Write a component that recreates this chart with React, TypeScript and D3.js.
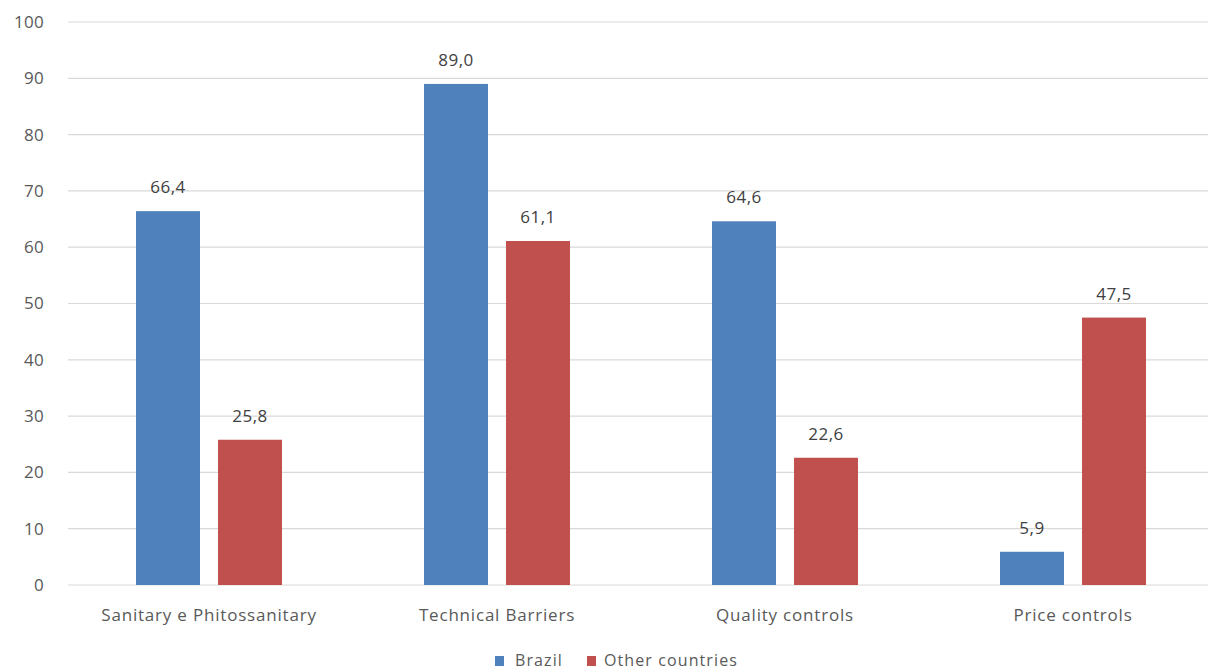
import React from "react";
import * as d3 from "d3";

const categories = ["Sanitary e Phitossanitary", "Technical Barriers", "Quality controls", "Price controls"];
const seriesNames = ["Brazil", "Other countries"];
const brazil = [66.4, 89.0, 64.6, 5.9];
const others = [25.8, 61.1, 22.6, 47.5];
const yTicks = [0, 10, 20, 30, 40, 50, 60, 70, 80, 90, 100];
const colors = ["#4F81BD", "#C0504D"];

const W = 1208, H = 672;
const left = 65, right = 1217, top = 22, bottom = 585;
const font = "'Open Sans', 'DejaVu Sans', sans-serif";

export default function App() {
  const x = d3.scaleBand<string>().domain(categories).range([left, right]).paddingInner(0).paddingOuter(0);
  const y = d3.scaleLinear().domain([0, 100]).range([bottom, top]);
  const inner = d3.scaleBand<string>().domain(seriesNames).range([0, x.bandwidth()]).paddingInner(0.22).paddingOuter(0.866);
  const series = [brazil, others];
  const fmt = (v: number) => v.toFixed(1).replace(".", ",");
  return (
    <svg width={W} height={H} style={{ position: "absolute", left: 0, top: 0, background: "#fff" }} fontFamily={font}>
      {yTicks.map((t) => (
        <g key={t}>
          <line x1={68} x2={W} y1={y(t)} y2={y(t)} stroke="#D9D9D9" strokeWidth={1.2} />
          <text x={44} y={y(t)} dy="0.35em" textAnchor="end" fontSize={17} letterSpacing={0.3} fill="#595959">{t}</text>
        </g>
      ))}
      {categories.map((c, i) => (
        <g key={c}>
          {series.map((s, j) => {
            const bx = (x(c) as number) + (inner(seriesNames[j]) as number);
            const bw = inner.bandwidth();
            return (
              <g key={j}>
                <rect x={bx} y={y(s[i])} width={bw} height={bottom - y(s[i])} fill={colors[j]} />
                <text x={bx + bw / 2} y={y(s[i]) - 18} textAnchor="middle" fontSize={17} letterSpacing={0.5} fill="#404040">{fmt(s[i])}</text>
              </g>
            );
          })}
          <text x={(x(c) as number) + x.bandwidth() / 2} y={621} textAnchor="middle" fontSize={17} letterSpacing={0.8} fill="#595959">{c}</text>
        </g>
      ))}
      <g>
        <rect x={495} y={656} width={9} height={10} fill={colors[0]} />
        <text x={515} y={666} fontSize={16} letterSpacing={1.1} fill="#595959">{seriesNames[0]}</text>
        <rect x={587} y={656} width={9} height={10} fill={colors[1]} />
        <text x={604} y={666} fontSize={16} letterSpacing={1.1} fill="#595959">{seriesNames[1]}</text>
      </g>
    </svg>
  );
}
